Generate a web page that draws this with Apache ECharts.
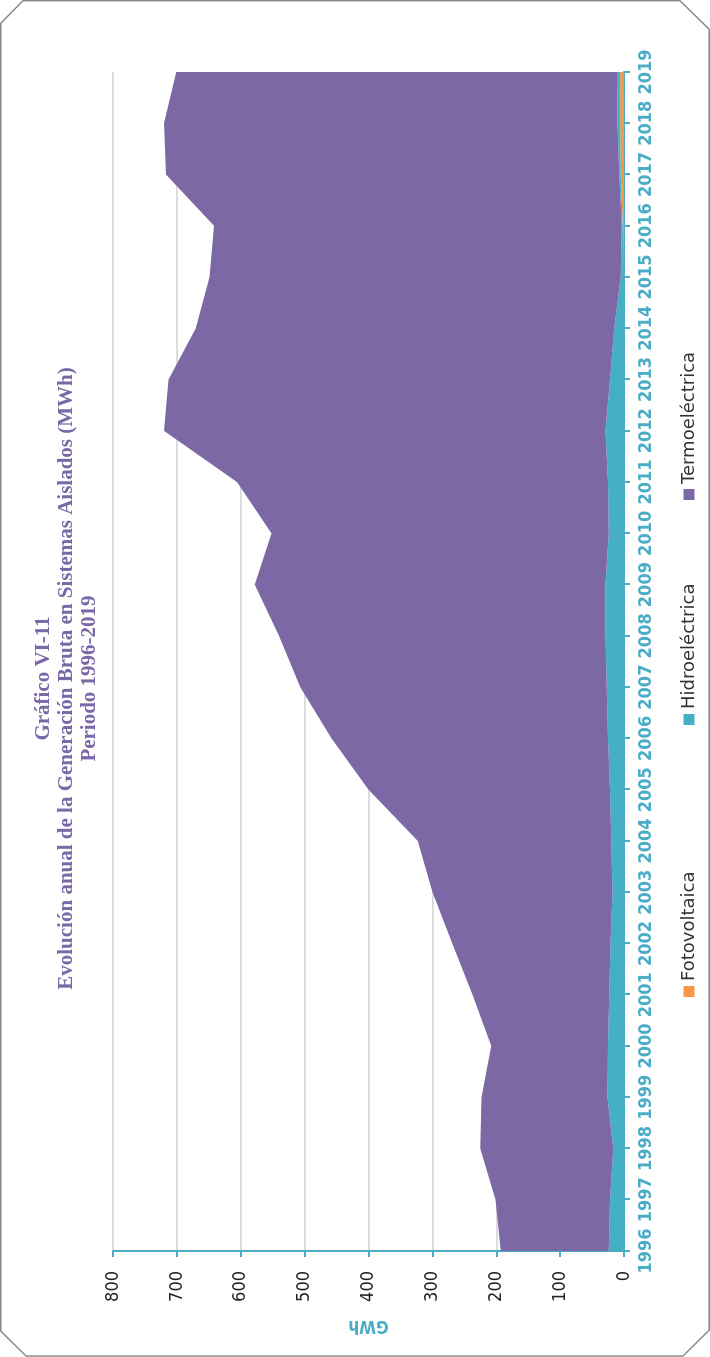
<!DOCTYPE html>
<html>
<head>
<meta charset="utf-8">
<script src="https://cdn.jsdelivr.net/npm/echarts@6/dist/echarts.min.js"></script>
<style>
  html, body { margin:0; padding:0; background:#fff; overflow:hidden; width:710px; height:1357px; }
  #chart { position:absolute; left:0; top:0; width:1357px; height:710px;
           transform-origin: 0 0; transform: translate(0px, 1357px) rotate(-90deg); }
</style>
</head>
<body>
<div id="chart"></div>
<script>
// ---- data ----
const years = ['1996','1997','1998','1999','2000','2001','2002','2003','2004','2005','2006','2007',
               '2008','2009','2010','2011','2012','2013','2014','2015','2016','2017','2018','2019'];
const fotovoltaica = [0,0,0,0,0,0,0,0,0,0,0,0,0,0,0,0,0,0,0.3,0.5,2,5,6,6];
const hidroelectrica = [24,22,17,26,25,23,21,18,20,22,25,27,29,29,24,25,29,22,15,4.5,1.5,2.5,4,5];
const termoelectrica = [169,179,208,197,183,214,248,282,303,378,433,480,511,549,528,581,691,691,655,644,638.5,709.5,710,690];
const valueTicks = [0,100,200,300,400,500,600,700,800];
const seriesNames = ['Fotovoltaica','Hidroeléctrica','Termoeléctrica'];
const titleLines = ['Gráfico VI-11','Evolución anual de la Generación Bruta en Sistemas Aislados (MWh)','Periodo 1996-2019'];
const axisName = 'GWh';

const colors = ['#F79646','#45AFC6','#7D68A6'];
const teal = '#4BACC6';
const narrow = '"Liberation Sans Narrow","DejaVu Sans Condensed","Liberation Sans",sans-serif';

const chart = echarts.init(document.getElementById('chart'), null, {renderer:'canvas', width:1357, height:710});

function legendFor(i, left) {
  return {
    data:[seriesNames[i]], left:left, top:675, orient:'horizontal',
    icon:'rect', itemWidth:11, itemHeight:11, itemGap:0,
    textStyle:{ color:'#333', fontSize:18, fontFamily:'"DejaVu Sans",sans-serif' },
    selectedMode:false
  };
}
function titleFor(i, top) {
  return {
    text:titleLines[i], left:'center', top:top, padding:0,
    textStyle:{ fontFamily:'"Liberation Serif",serif', fontWeight:'bold', fontSize:21, color:'#7B68A6' }
  };
}

const option = {
  backgroundColor:'#ffffff',
  animation:false,
  title:[ titleFor(0, 33), titleFor(1, 56), titleFor(2, 79) ],
  legend:[ legendFor(0, 355), legendFor(1, 627), legendFor(2, 852) ],
  grid:{ left:106, right:72, top:113, bottom:86, containLabel:false },
  xAxis:{
    type:'category', data:years, boundaryGap:false,
    axisLine:{ show:true, lineStyle:{ color:teal, width:2 } },
    axisTick:{ show:true, length:6, interval:0, lineStyle:{ color:teal, width:2 } },
    axisLabel:{ interval:0, margin:13, color:teal, fontWeight:'bold', fontSize:18, fontFamily:narrow },
    splitLine:{ show:false }
  },
  yAxis:{
    type:'value', min:valueTicks[0], max:valueTicks[valueTicks.length-1], interval:100,
    name:axisName, nameLocation:'middle', nameGap:66,
    nameTextStyle:{ color:teal, fontWeight:'bold', fontSize:17, fontFamily:narrow },
    axisLine:{ show:true, lineStyle:{ color:teal, width:2 } },
    axisTick:{ show:true, length:6, lineStyle:{ color:teal, width:2 } },
    axisLabel:{ margin:20, color:'#222', fontSize:18, fontFamily:narrow },
    splitLine:{ show:true, lineStyle:{ color:'#d0d0d0', width:1.5 } }
  },
  series:[
    { name:seriesNames[0], type:'line', stack:'total', data:fotovoltaica, symbol:'none',
      lineStyle:{ width:0 }, areaStyle:{ color:colors[0], opacity:1 }, itemStyle:{ color:colors[0] } },
    { name:seriesNames[1], type:'line', stack:'total', data:hidroelectrica, symbol:'none',
      lineStyle:{ width:0 }, areaStyle:{ color:colors[1], opacity:1 }, itemStyle:{ color:colors[1] } },
    { name:seriesNames[2], type:'line', stack:'total', data:termoelectrica, symbol:'none',
      lineStyle:{ width:0 }, areaStyle:{ color:colors[2], opacity:1 }, itemStyle:{ color:colors[2] } }
  ],
  graphic:[{
    type:'polygon', silent:true, z:100,
    shape:{ points:[[1356.3,23],[1356.3,680],[1327.7,709.3],[27,709.3],[1,683],[1,26],[26,0.7],[1333.7,0.7]] },
    style:{ fill:'none', stroke:'#858585', lineWidth:1.4 }
  }]
};
chart.setOption(option);
</script>
</body>
</html>
